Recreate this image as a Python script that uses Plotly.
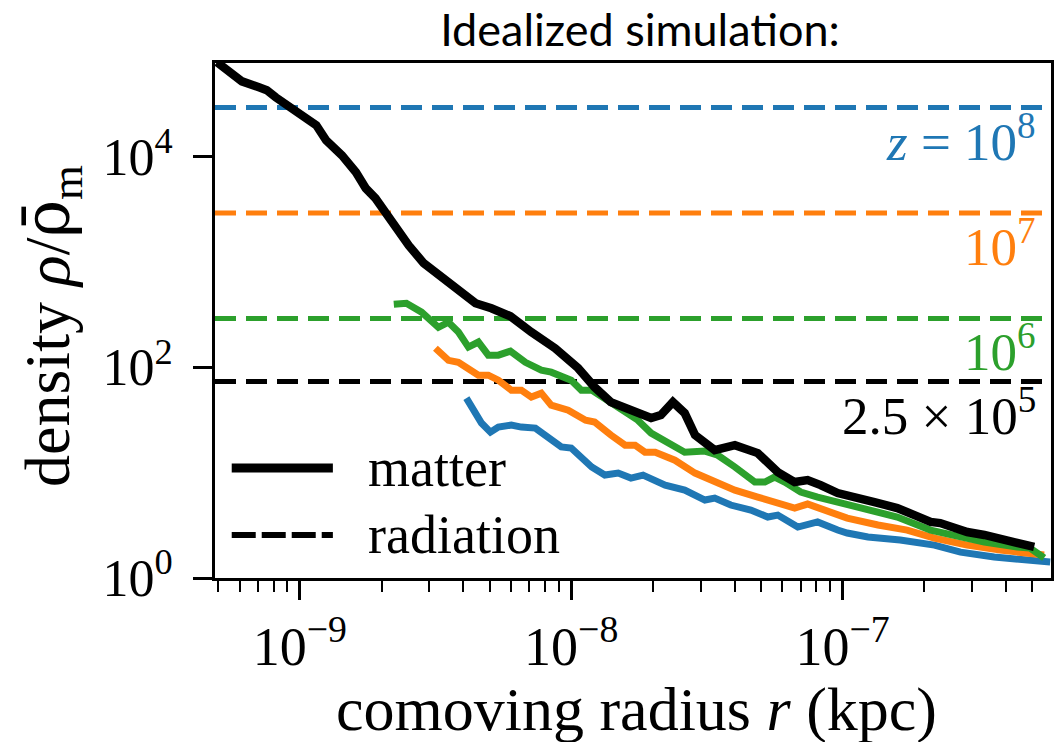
import math
import plotly.graph_objects as go

# ---------------- data ----------------
# matter density profiles rho/rho_m vs comoving radius r (kpc)
black_r = [4.95e-10, 5.62e-10, 6.12e-10, 7.07e-10, 7.56e-10, 8.16e-10, 9.35e-10, 1.05e-9, 1.15e-9,
           1.25e-9, 1.33e-9, 1.43e-9, 1.61e-9, 1.75e-9, 1.90e-9, 2.07e-9, 2.25e-9, 2.52e-9, 2.86e-9,
           3.62e-9, 4.44e-9, 5.08e-9, 5.97e-9, 7.13e-9, 8.73e-9, 1.06e-8, 1.22e-8, 1.40e-8, 1.62e-8,
           1.76e-8, 1.97e-8, 2.14e-8, 2.37e-8, 2.62e-8, 2.86e-8, 3.38e-8, 4.01e-8, 4.87e-8, 5.77e-8,
           6.66e-8, 7.43e-8, 8.30e-8, 9.59e-8, 1.31e-7, 1.59e-7, 1.84e-7, 2.11e-7, 2.29e-7, 2.88e-7,
           3.33e-7, 4.15e-7, 5.08e-7]
black_rho = [7.8e4, 5.86e4, 5.14e4, 4.51e4, 4.23e4, 3.62e4, 2.85e4, 2.29e4, 1.97e4,
             1.42e4, 1.22e4, 1.02e4, 7050, 4970, 4000, 2940, 2080, 1430, 968,
             625, 404, 362, 304, 215, 151, 97.9, 64.6, 46.6, 40.9,
             36.6, 32.9, 35.1, 46.6, 36.6, 22.7, 16.3, 18.2, 15.3, 10.1,
             8.13, 8.49, 7.61, 6.39, 5.25, 4.61, 3.95, 3.40, 3.32, 2.73,
             2.56, 2.19, 1.97]

green_r = [2.22e-9, 2.47e-9, 2.81e-9, 3.24e-9, 3.53e-9, 3.84e-9, 4.18e-9, 4.55e-9, 4.95e-9, 5.39e-9,
           5.97e-9, 6.78e-9, 7.76e-9, 8.44e-9, 1.0e-8, 1.09e-8, 1.19e-8, 1.40e-8, 1.62e-8, 1.76e-8,
           1.97e-8, 2.27e-8, 2.62e-8, 3.11e-8, 3.47e-8, 4.01e-8, 4.75e-8, 5.17e-8, 5.62e-8, 6.12e-8,
           7.01e-8, 8.09e-8, 9.59e-8, 1.27e-7, 1.59e-7, 2.11e-7, 2.49e-7, 3.33e-7, 4.40e-7, 4.91e-7,
           5.53e-7]
green_rho = [395, 404, 332, 239, 267, 215, 155, 173, 130, 130,
             142, 111, 93.7, 89.7, 75.3, 60.5, 60.5, 46.6, 36.6, 31.4,
             23.7, 19.5, 15.6, 16.0, 14.6, 11.3, 8.13, 8.13, 9.07, 8.13,
             6.53, 5.86, 5.25, 4.41, 3.79, 2.85, 2.56, 2.19, 1.97, 1.92,
             1.55]

orange_r = [3.16e-9, 3.53e-9, 3.84e-9, 4.29e-9, 4.55e-9, 4.95e-9, 5.39e-9, 6.02e-9, 6.55e-9, 7.13e-9,
            7.76e-9, 8.44e-9, 9.75e-9, 1.13e-8, 1.22e-8, 1.40e-8, 1.58e-8, 1.72e-8, 1.87e-8, 2.04e-8,
            2.41e-8, 2.86e-8, 3.11e-8, 3.47e-8, 4.01e-8, 4.87e-8, 5.77e-8, 6.66e-8, 7.43e-8, 8.59e-8,
            9.59e-8, 1.04e-7, 1.35e-7, 1.73e-7, 2.18e-7, 2.88e-7, 3.81e-7, 5.53e-7]
orange_rho = [151, 116, 111, 89.7, 84.0, 84.0, 75.3, 60.5, 60.5, 52.0,
              56.7, 43.6, 39.1, 31.4, 30.1, 22.7, 18.2, 18.2, 15.6, 15.6,
              13.1, 9.89, 9.07, 7.95, 6.82, 5.86, 5.14, 4.61, 5.03, 4.41,
              3.95, 3.70, 3.18, 2.85, 2.39, 2.05, 1.84, 1.65]

blue_r = [4.11e-9, 4.36e-9, 4.67e-9, 5.04e-9, 5.39e-9, 6.02e-9, 6.55e-9, 7.38e-9, 8.23e-9, 9.19e-9,
          1.0e-8, 1.09e-8, 1.19e-8, 1.33e-8, 1.49e-8, 1.66e-8, 1.84e-8, 2.22e-8, 2.62e-8, 3.11e-8,
          3.38e-8, 3.87e-8, 4.59e-8, 5.30e-8, 5.77e-8, 6.84e-8, 7.43e-8, 8.09e-8, 9.59e-8, 1.04e-7,
          1.24e-7, 1.63e-7, 2.18e-7, 2.72e-7, 3.62e-7, 5.82e-7]
blue_rho = [50.8, 39.1, 29.5, 24.2, 27.0, 28.2, 27.0, 26.4, 21.2, 17.5,
            17.1, 14.0, 11.3, 9.47, 9.89, 8.87, 9.47, 7.61, 6.82, 5.49,
            5.73, 4.92, 4.41, 3.79, 3.95, 3.04, 3.18, 3.40, 2.85, 2.67,
            2.45, 2.29, 2.05, 1.76, 1.58, 1.42]

# radiation density levels (dashed) and their labels
rad_levels = [2.9e4, 2.9e3, 2.9e2, 73]
rad_labels = ["<i>z</i> = 10<sup>8</sup>", "10<sup>7</sup>", "10<sup>6</sup>", "2.5 × 10<sup>5</sup>"]
colors = ["#1f77b4", "#ff7f0e", "#2ca02c", "#000000"]

x_tick_vals = [1e-9, 1e-8, 1e-7]
x_tick_text = ["10<sup>−9</sup>", "10<sup>−8</sup>", "10<sup>−7</sup>"]
y_tick_vals = [1, 1e2, 1e4]
y_tick_text = ["10<sup>0</sup>", "10<sup>2</sup>", "10<sup>4</sup>"]

SERIF = "Liberation Serif, Times New Roman, serif"

fig = go.Figure()
series = [(blue_r, blue_rho, colors[0]), (orange_r, orange_rho, colors[1]),
          (green_r, green_rho, colors[2]), (black_r, black_rho, colors[3])]
for r, rho, c in series:
    fig.add_trace(go.Scatter(x=r, y=rho, mode="lines", showlegend=False,
                             line=dict(color=c, width=8.5 if c == "#000000" else 7)))

for lvl, lab, c in zip(rad_levels, rad_labels, colors):
    fig.add_hline(y=lvl, line=dict(color=c, width=5, dash="21px,10px"), layer="below")
    fig.add_annotation(x=0.985, xref="paper", xanchor="right", y=math.log10(lvl), yref="y",
                       yanchor="middle", yshift=-30, text=lab, showarrow=False,
                       font=dict(family=SERIF, size=53, color=c))

# minor ticks
minor_vals = [m * 10.0 ** e for e in range(-10, -6) for m in range(2, 10)]

fig.update_xaxes(type="log", range=[-9.3125, -6.232], showline=True, linecolor="black", linewidth=3,
                 mirror=True, ticks="outside", ticklen=19, tickwidth=2.5, tickcolor="black",
                 tickvals=x_tick_vals, ticktext=x_tick_text, showgrid=False, zeroline=False,
                 tickfont=dict(family=SERIF, size=54, color="black"),
                 minor=dict(tickvals=minor_vals, ticks="outside", ticklen=11, tickwidth=2,
                            tickcolor="black", showgrid=False))
fig.update_yaxes(type="log", range=[0, 4.885], showline=True, linecolor="black", linewidth=3,
                 mirror=True, ticks="outside", ticklen=19, tickwidth=2.5, tickcolor="black",
                 tickvals=y_tick_vals, ticktext=y_tick_text, showgrid=False, zeroline=False,
                 ticklabelstandoff=10,
                 tickfont=dict(family=SERIF, size=52, color="black"))

# axis titles
fig.add_annotation(x=0.504, xref="paper", y=-0.255, yref="paper", xanchor="center", yanchor="middle",
                   text="comoving radius <i>r</i> (kpc)", showarrow=False,
                   font=dict(family=SERIF, size=62, color="black"))
fig.add_annotation(x=-0.197, xref="paper", y=0.49, yref="paper", xanchor="center", yanchor="middle",
                   textangle=-90,
                   text="density <i>ρ</i>/<span style='font-family:DejaVu Serif'>ρ̄</span><sub>m</sub>",
                   showarrow=False, font=dict(family=SERIF, size=64, color="black"))

# legend (drawn manually)
fig.add_shape(type="line", xref="paper", yref="paper", x0=0.020, x1=0.141, y0=0.2136, y1=0.2136,
              line=dict(color="black", width=9))
fig.add_shape(type="line", xref="paper", yref="paper", x0=0.020, x1=0.141, y0=0.0835, y1=0.0835,
              line=dict(color="black", width=6, dash="24px,6px"))
fig.add_annotation(x=0.181, xref="paper", y=0.2136, yref="paper", xanchor="left", yanchor="middle",
                   text="matter", showarrow=False, font=dict(family=SERIF, size=54, color="black"))
fig.add_annotation(x=0.181, xref="paper", y=0.0835, yref="paper", xanchor="left", yanchor="middle",
                   text="radiation", showarrow=False, font=dict(family=SERIF, size=54, color="black"))

fig.update_layout(
    width=1059, height=742, autosize=False,
    margin=dict(l=215, r=5, t=63, b=164),
    paper_bgcolor="white", plot_bgcolor="white",
    title=dict(text="Idealized simulation:", x=640 / 1059, xanchor="center", xref="container",
               y=1 - 30 / 742, yanchor="middle", yref="container",
               font=dict(family="Lato, Open Sans, sans-serif", size=45, color="black")),
)

fig.write_html("out.html")
